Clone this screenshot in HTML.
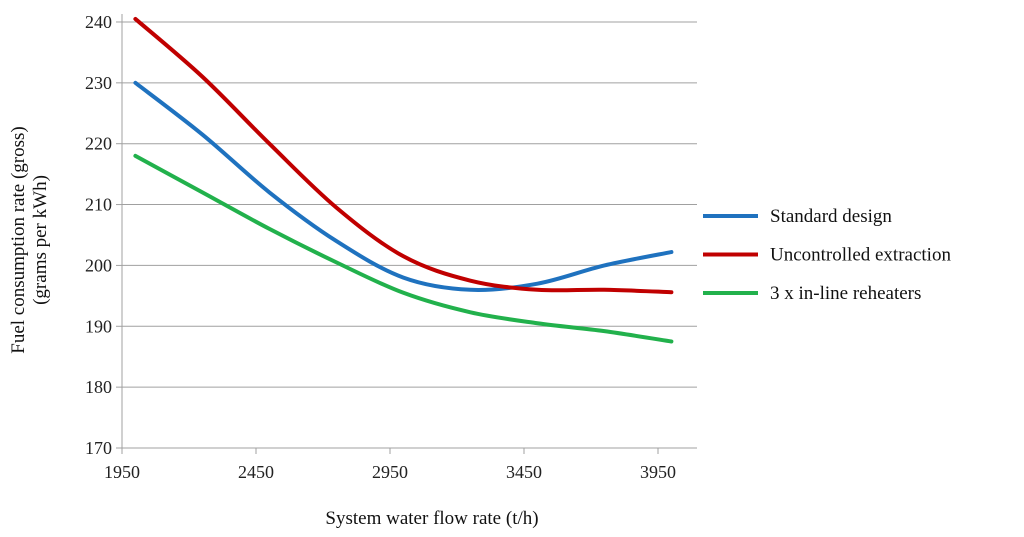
<!DOCTYPE html>
<html><head><meta charset="utf-8"><style>
body{margin:0;background:#fff}
svg{display:block;font-family:"Liberation Serif",serif}
</style></head><body>
<svg id="c" width="1024" height="537"></svg>
<script>
const xs=[2000,2250,2500,2750,3000,3250,3500,3750,4000];
const standardDesign=[230,221.5,212,204,198,196,197,200,202.2];
const uncontrolledExtraction=[240.5,231,220,209.5,201.5,197.5,196,196,195.6];
const inlineReheaters=[218,212,206,200.5,195.5,192.3,190.5,189.2,187.5];
const yTicks=[170,180,190,200,210,220,230,240];
const xTicks=[1950,2450,2950,3450,3950];
const seriesNames=["Standard design","Uncontrolled extraction","3 x in-line reheaters"];
const NS="http://www.w3.org/2000/svg";
const svg=document.getElementById('c');
const X=v=>122+(v-1950)*0.268;
const Y=v=>448-(v-170)*6.086;
function mk(t,a,txt){const e=document.createElementNS(NS,t);for(const k in a)e.setAttribute(k,a[k]);if(txt!=null)e.textContent=txt;svg.appendChild(e);return e;}
yTicks.forEach(t=>{
 if(t>170){const g=mk('line',{x1:122,x2:697,y1:Y(t),y2:Y(t),stroke:'#a0a0a0','stroke-width':1});
 
 }
 const tk=mk('line',{x1:116,x2:122,y1:Y(t),y2:Y(t),stroke:'#a0a0a0'});
 
 
 const l=mk('text',{x:112,y:Y(t)+6,'text-anchor':'end','font-size':18,fill:'#222'},t);
 
 
});
const xa=mk('line',{x1:122,x2:697,y1:448,y2:448,stroke:'#a0a0a0'});


const ya=mk('line',{x1:122,x2:122,y1:14,y2:454,stroke:'#a0a0a0'});


xTicks.forEach(t=>{
 const tk=mk('line',{x1:X(t),x2:X(t),y1:448,y2:454,stroke:'#a0a0a0'});
 
 
 const l=mk('text',{x:X(t),y:478,'text-anchor':'middle','font-size':18,fill:'#222'},t);
 
 
});
function path(vals){
 const p=xs.map((x,i)=>[X(x),Y(vals[i])]);
 let d='M'+p[0][0]+','+p[0][1];
 for(let i=0;i<p.length-1;i++){
  const p0=p[Math.max(0,i-1)],p1=p[i],p2=p[i+1],p3=p[Math.min(p.length-1,i+2)];
  const c1=[p1[0]+(p2[0]-p0[0])/6,p1[1]+(p2[1]-p0[1])/6];
  const c2=[p2[0]-(p3[0]-p1[0])/6,p2[1]-(p3[1]-p1[1])/6];
  d+=` C${c1[0]},${c1[1]} ${c2[0]},${c2[1]} ${p2[0]},${p2[1]}`;
 }
 return d;
}
const cols=['#1f72bf','#c00000','#22b14c'];
[standardDesign,uncontrolledExtraction,inlineReheaters].forEach((s,i)=>{
 const ln=mk('path',{d:path(s),fill:'none',stroke:cols[i],'stroke-width':4,'stroke-linecap':'round'});
 
 
 const ly=216+i*38.5;
 const ls=mk('line',{x1:703,x2:758,y1:ly,y2:ly,stroke:cols[i],'stroke-width':4});
 
 
 const lt=mk('text',{x:770,y:ly+6,'font-size':19,fill:'#111'},seriesNames[i]);
 
 
});
const xt=mk('text',{x:432,y:524,'text-anchor':'middle','font-size':19,fill:'#111'},'System water flow rate (t/h)');


const yt=mk('text',{x:0,y:0,transform:'translate(24,240) rotate(-90)','text-anchor':'middle','font-size':19,fill:'#111'},'Fuel consumption rate (gross)');


const yt2=mk('text',{x:0,y:0,transform:'translate(46,240) rotate(-90)','text-anchor':'middle','font-size':19,fill:'#111'},'(grams per kWh)');


</script>
</body></html>
